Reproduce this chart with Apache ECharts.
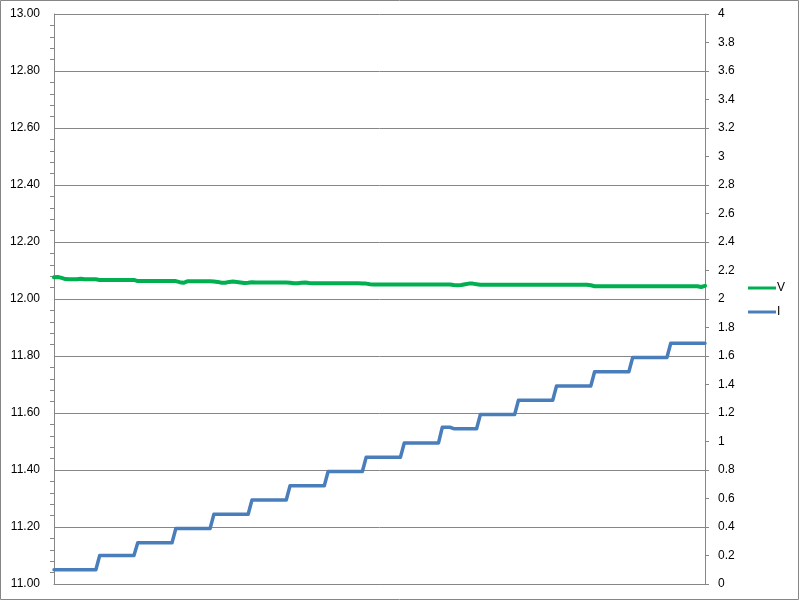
<!DOCTYPE html>
<html>
<head>
<meta charset="utf-8">
<script src="https://cdn.jsdelivr.net/npm/echarts@6/dist/echarts.min.js"></script>
<style>
html,body{margin:0;padding:0;background:#fff;}
#chart{width:800px;height:601px;}
</style>
</head>
<body>
<div id="chart"></div>
<script>
// Sample index axis (0..171), voltage (left axis) and current (right axis)
const leftTicks = [11.0, 13.0, 0.2];   // min, max, interval
const rightTicks = [0, 4, 0.2];
const seriesNames = ['V', 'I'];

const vValues = [
  12.076,12.077,12.074,12.070,12.069,12.069,12.069,12.071,12.069,12.069,12.069,12.069,
  12.067,12.067,12.067,12.067,12.067,12.067,12.067,12.067,12.067,12.067,
  12.063,12.063,12.063,12.063,12.063,12.063,12.063,12.063,12.063,12.063,12.063,
  12.059,12.057,
  12.062,12.062,12.062,12.062,12.062,12.062,12.062,
  12.061,12.060,12.057,12.057,12.060,12.061,12.060,12.058,12.056,12.057,12.059,
  12.058,12.058,12.058,12.058,12.058,12.058,12.058,12.058,12.058,
  12.057,12.055,12.055,12.057,12.058,12.056,
  12.055,12.055,12.055,12.055,12.055,12.055,12.055,12.055,12.055,12.055,12.055,12.055,12.055,
  12.054,12.054,12.052,
  12.051,12.051,12.051,12.051,12.051,12.051,12.051,12.051,12.051,12.051,12.051,12.051,12.051,12.051,12.051,12.051,12.051,12.051,12.051,12.051,12.051,
  12.049,12.048,12.049,12.052,12.054,12.054,12.052,
  12.050,12.050,12.050,12.050,12.050,12.050,12.050,12.050,12.050,12.050,12.050,12.050,12.050,12.050,12.050,
  12.050,12.050,12.050,12.050,12.050,12.050,12.050,12.050,12.050,12.050,12.050,12.050,12.050,12.050,
  12.048,
  12.045,12.045,12.045,12.045,12.045,12.045,12.045,12.045,12.045,12.045,12.045,12.045,12.045,12.045,
  12.045,12.045,12.045,12.045,12.045,12.045,12.045,12.045,12.045,12.045,12.045,12.045,12.045,12.045,
  12.042,12.046
];

const iValues = [
  0.10,0.10,0.10,0.10,0.10,0.10,0.10,0.10,0.10,0.10,0.10,0.10,
  0.20,0.20,0.20,0.20,0.20,0.20,0.20,0.20,0.20,0.20,
  0.29,0.29,0.29,0.29,0.29,0.29,0.29,0.29,0.29,0.29,
  0.39,0.39,0.39,0.39,0.39,0.39,0.39,0.39,0.39,0.39,
  0.49,0.49,0.49,0.49,0.49,0.49,0.49,0.49,0.49,0.49,
  0.59,0.59,0.59,0.59,0.59,0.59,0.59,0.59,0.59,0.59,
  0.69,0.69,0.69,0.69,0.69,0.69,0.69,0.69,0.69,0.69,
  0.79,0.79,0.79,0.79,0.79,0.79,0.79,0.79,0.79,0.79,
  0.89,0.89,0.89,0.89,0.89,0.89,0.89,0.89,0.89,0.89,
  0.99,0.99,0.99,0.99,0.99,0.99,0.99,0.99,0.99,0.99,
  1.10,1.10,1.10,1.09,1.09,1.09,1.09,1.09,1.09,1.09,
  1.19,1.19,1.19,1.19,1.19,1.19,1.19,1.19,1.19,1.19,
  1.29,1.29,1.29,1.29,1.29,1.29,1.29,1.29,1.29,1.29,
  1.39,1.39,1.39,1.39,1.39,1.39,1.39,1.39,1.39,1.39,
  1.49,1.49,1.49,1.49,1.49,1.49,1.49,1.49,1.49,1.49,
  1.59,1.59,1.59,1.59,1.59,1.59,1.59,1.59,1.59,1.59,
  1.69,1.69,1.69,1.69,1.69,1.69,1.69,1.69,1.69,1.69
];

const chart = echarts.init(document.getElementById('chart'), null, {renderer: 'canvas'});
const gray = '#868686';
const font = 'Liberation Sans, Arial, sans-serif';

chart.setOption({
  animation: false,
  backgroundColor: '#ffffff',
  graphic: [{
    type: 'rect',
    shape: {x: 0.5, y: 0.5, width: 798, height: 599},
    style: {fill: 'none', stroke: gray, lineWidth: 1},
    silent: true, z: 100
  }],
  grid: {left: 54, top: 14, right: 95, bottom: 17, containLabel: false},
  legend: {
    orient: 'vertical',
    left: 748, top: 282, padding: 0,
    itemWidth: 28, itemHeight: 3, itemGap: 12,
    icon: 'rect',
    textStyle: {fontFamily: font, fontSize: 12, color: '#000', padding: [0,0,0,-4]},
    data: [
      {name: seriesNames[0], itemStyle: {color: '#00B050'}},
      {name: seriesNames[1], itemStyle: {color: '#4A7EBB'}}
    ]
  },
  xAxis: {
    type: 'value', min: 0, max: vValues.length - 1,
    axisLine: {show: true, onZero: false, lineStyle: {color: gray}},
    axisTick: {show: false}, axisLabel: {show: false}, splitLine: {show: false}
  },
  yAxis: [{
    type: 'value', min: leftTicks[0], max: leftTicks[1], interval: leftTicks[2],
    position: 'left',
    axisLine: {show: true, lineStyle: {color: gray}},
    axisTick: {show: false},
    minorTick: {show: true, splitNumber: 5, length: 4, lineStyle: {color: gray}},
    axisLabel: {fontFamily: font, fontSize: 12, color: '#000', margin: 14,
      formatter: v => v.toFixed(2)},
    splitLine: {show: true, lineStyle: {color: gray, width: 1}}
  }, {
    type: 'value', min: rightTicks[0], max: rightTicks[1], interval: rightTicks[2],
    position: 'right',
    axisLine: {show: true, lineStyle: {color: gray}},
    axisTick: {show: true, length: 4, lineStyle: {color: gray}},
    axisLabel: {fontFamily: font, fontSize: 12, color: '#000', margin: 13,
      formatter: v => String(+v.toFixed(1))},
    splitLine: {show: false}
  }],
  series: [{
    name: seriesNames[0], type: 'line', yAxisIndex: 0,
    data: vValues.map((v, i) => [i, v]),
    showSymbol: false, symbol: 'none',
    lineStyle: {color: '#00B050', width: 4, cap: 'round', join: 'round'},
    itemStyle: {color: '#00B050'}, z: 3
  }, {
    name: seriesNames[1], type: 'line', yAxisIndex: 1,
    data: iValues.map((v, i) => [i, v]),
    showSymbol: false, symbol: 'none',
    lineStyle: {color: '#4A7EBB', width: 3.5, cap: 'round', join: 'round'},
    itemStyle: {color: '#4A7EBB'}, z: 3
  }]
});
</script>
</body>
</html>
